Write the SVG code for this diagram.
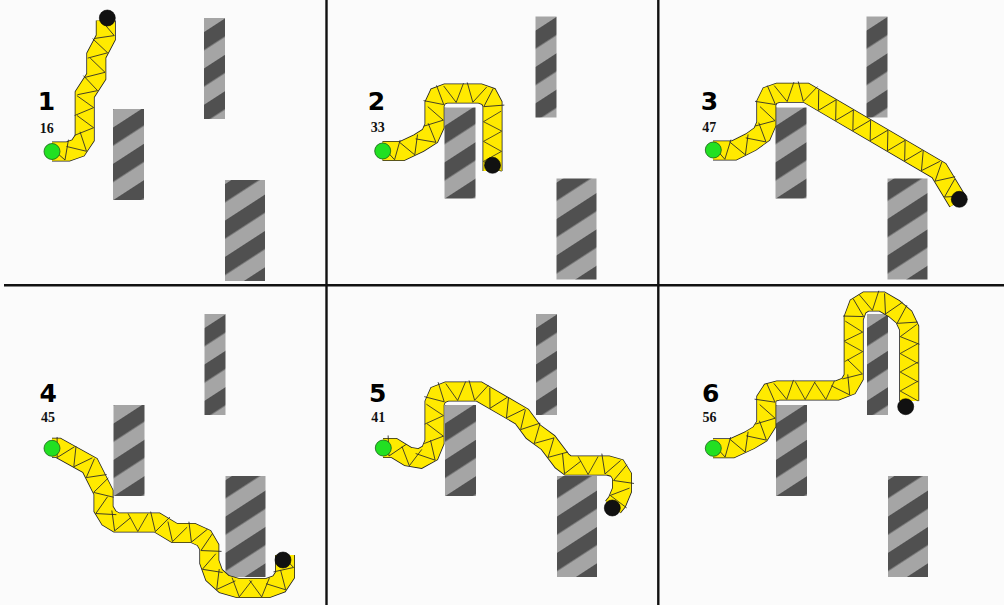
<svg xmlns="http://www.w3.org/2000/svg" width="1004" height="605" viewBox="0 0 1004 605">
  <style>
    .bg { fill: #fbfbfb; }
    .rule { stroke: #111; stroke-width: 2.4; fill: none; }
    .edge { fill: none; stroke: #222; stroke-width: 20; stroke-linejoin: miter; stroke-miterlimit: 3; }
    .flesh { fill: none; stroke: #ffea00; stroke-width: 18.4; stroke-linejoin: miter; stroke-miterlimit: 3; }
    .zig { fill: none; stroke: none; marker-start: url(#link); marker-mid: url(#link); marker-end: url(#link); }
    .tip { fill: #111; stroke: #000; stroke-width: 0.6; }
    .base { fill: #22e022; stroke: #1b5e1b; stroke-width: 0.8; }
    .num { font-family: "DejaVu Sans", "Liberation Sans", sans-serif; font-weight: bold; font-size: 25px; fill: #000; text-anchor: middle; }
    .cnt { font-family: "Liberation Serif", serif; font-weight: bold; font-size: 14px; fill: #111; text-anchor: middle; }
  </style>
  <defs>
    <!-- diagonal hazard stripes for the obstacles -->
    <pattern id="hatchA" patternUnits="userSpaceOnUse" x="16" width="30.5" height="10" patternTransform="rotate(57)">
      <rect width="30.5" height="10" fill="#a5a5a5"/>
      <rect width="15.25" height="10" fill="#505050"/>
    </pattern>
    <pattern id="hatchC" patternUnits="userSpaceOnUse" x="2.5" width="30.5" height="10" patternTransform="rotate(57)">
      <rect width="30.5" height="10" fill="#a5a5a5"/>
      <rect width="15.25" height="10" fill="#505050"/>
    </pattern>
    <!-- one link of the arm: a V spanning two triangles -->
    <marker id="link" markerUnits="userSpaceOnUse" orient="auto" overflow="visible" markerWidth="1" markerHeight="1" refX="0" refY="0">
      <path d="M-10,-9 L0,9 L10,-9" fill="none" stroke="#2a2a2a" stroke-width="0.8"/>
    </marker>
    <!-- obstacle layout shared by every panel -->
    <g id="field">
      <rect x="113" y="109" width="31" height="91" fill="url(#hatchA)"/>
      <rect x="204" y="18" width="21" height="101" fill="url(#hatchA)"/>
      <rect x="225" y="180" width="40" height="101" fill="url(#hatchC)"/>
    </g>
  </defs>

  <rect class="bg" x="0" y="0" width="1004" height="605"/>

  <g id="panel-1">
    <use href="#field"/>
    <polyline class="edge" points="52,151.5 68,151.5 78,148 84.7,138 84.7,94.5 96.3,76.5 96.3,55.5 105.8,37.5 105.8,20.5"/>
    <polyline class="flesh" points="52,151.5 68,151.5 78,148 84.7,138 84.7,94.5 96.3,76.5 96.3,55.5 105.8,37.5 105.8,20.5"/>
    <polyline class="zig" points="62,151.5 79.9,145.2 84.7,126.6 84.7,106.6 89,87.9 96.3,70 98.9,50.6 105.8,32.4"/>
    <circle class="base" cx="52" cy="151.5" r="8"/>
    <circle class="tip" cx="107.3" cy="18" r="8"/>
    <text class="num" x="46.5" y="110">1</text>
    <text class="cnt" x="46.7" y="132.7">16</text>
  </g>

  <g id="panel-2">
    <use href="#field" transform="translate(331.5,-1.5)"/>
    <polyline class="edge" points="382.5,151 402,151 419,143 430,136 434.5,126 434.5,104 438,96.5 446,93.5 480,93.5 488.5,96.5 492.5,104 492.5,171"/>
    <polyline class="flesh" points="382.5,151 402,151 419,143 430,136 434.5,126 434.5,104 438,96.5 446,93.5 480,93.5 488.5,96.5 492.5,104 492.5,171"/>
    <polyline class="zig" points="392.5,151 411.5,146.5 428.9,136.7 434.5,118.3 436.9,98.8 454.9,93.5 474.9,93.5 491.3,101.7 492.5,121.4 492.5,141.4 492.5,161.4"/>
    <circle class="base" cx="382.7" cy="151" r="8"/>
    <circle class="tip" cx="492.5" cy="165.3" r="8"/>
    <text class="num" x="376.5" y="110">2</text>
    <text class="cnt" x="377.8" y="131.7">33</text>
  </g>

  <g id="panel-3">
    <use href="#field" transform="translate(662.5,-1.5)"/>
    <polyline class="edge" points="713,150.5 734,150.5 751,142 762,134 766.3,124 766.3,103 770,95.5 778,92.7 806,92.7 939,170.5 958,202"/>
    <polyline class="flesh" points="713,150.5 734,150.5 751,142 762,134 766.3,124 766.3,103 770,95.5 778,92.7 806,92.7 939,170.5 958,202"/>
    <polyline class="zig" points="723,150.5 742.1,146.5 759.1,136.1 766.3,118.5 768.3,99 785.6,92.7 805.6,92.7 822.9,102.6 840.2,112.7 857.4,122.8 874.7,132.9 892,143 909.2,153.1 926.5,163.2 941.8,175.2 952.2,192.3"/>
    <circle class="base" cx="713.3" cy="150" r="8"/>
    <circle class="tip" cx="959.3" cy="199.3" r="8"/>
    <text class="num" x="709.5" y="110">3</text>
    <text class="cnt" x="709.2" y="132">47</text>
  </g>

  <g id="panel-4">
    <use href="#field" transform="translate(0.5,296)"/>
    <polyline class="edge" points="52,447.8 58,447.8 90,465.4 103.5,492.3 103.5,509 109,518 116.5,522.5 157,522.5 174.5,533 193,533 204,538 209.3,547 209.3,562 214,575 224,584 238,588 268,588 279,584 285,575 285,555"/>
    <polyline class="flesh" points="52,447.8 58,447.8 90,465.4 103.5,492.3 103.5,509 109,518 116.5,522.5 157,522.5 174.5,533 193,533 204,538 209.3,547 209.3,562 214,575 224,584 238,588 268,588 279,584 285,575 285,555"/>
    <polyline class="zig" points="61.5,449.7 79,459.4 93.4,472.1 102.3,490 103.9,509.6 117.9,522.5 137.9,522.5 157.8,523 175,533 194.8,533.8 209,546.5 210.8,566.2 222,582.2 240.6,588 260.6,588 279.5,583.3 285,564.9"/>
    <circle class="base" cx="52" cy="448.3" r="8"/>
    <circle class="tip" cx="283" cy="560" r="8"/>
    <text class="num" x="48.3" y="402">4</text>
    <text class="cnt" x="48" y="422">45</text>
  </g>

  <g id="panel-5">
    <use href="#field" transform="translate(332,296)"/>
    <polyline class="edge" points="383,448 394,448 408,456.5 420,458.5 430,453 434.5,442 434.5,403 438,395 447,391.5 479,391.5 522,416.5 533,431.5 548,442.5 562,461 568,465.5 608,465.5 617,468 622,476 622,490 617,502 613,507"/>
    <polyline class="flesh" points="383,448 394,448 408,456.5 420,458.5 430,453 434.5,442 434.5,403 438,395 447,391.5 479,391.5 522,416.5 533,431.5 548,442.5 562,461 568,465.5 608,465.5 617,468 622,476 622,490 617,502 613,507"/>
    <polyline class="zig" points="393,448 410.6,456.9 429.1,453.5 434.5,434.9 434.5,414.9 437.7,395.6 456.7,391.5 476.7,391.5 494.3,400.4 511.6,410.5 526.7,423 540.6,437.1 554.5,451.1 568.1,465.5 588.1,465.5 608.1,465.5 622,477.3 619.2,496.7"/>
    <circle class="base" cx="383.3" cy="448" r="8"/>
    <circle class="tip" cx="612.3" cy="508" r="8"/>
    <text class="num" x="377.8" y="402">5</text>
    <text class="cnt" x="378.3" y="422">41</text>
  </g>

  <g id="panel-6">
    <use href="#field" transform="translate(663,296)"/>
    <polyline class="edge" points="713,448.3 732,448.3 750,440 760,434 766.3,424 766.3,399 770.5,392.5 778,390.5 837,390.5 848.5,386 853.7,377 853.7,318 858,306.5 866,301.5 882,301.5 894,308.5 904,317 909.2,328 909.2,401"/>
    <polyline class="flesh" points="713,448.3 732,448.3 750,440 760,434 766.3,424 766.3,399 770.5,392.5 778,390.5 837,390.5 848.5,386 853.7,377 853.7,318 858,306.5 866,301.5 882,301.5 894,308.5 904,317 909.2,328 909.2,401"/>
    <polyline class="zig" points="723,448.3 742,443.7 759.6,434.2 766.3,416.3 767.8,396.7 785.2,390.5 805.2,390.5 825.2,390.5 844.6,387.5 853.7,371.6 853.7,351.6 853.7,331.6 855.9,312 870.7,301.5 889.5,305.9 904.7,318.5 909.2,335.5 909.2,353.5 909.2,372 909.2,391"/>
    <circle class="base" cx="713.3" cy="448.3" r="8"/>
    <circle class="tip" cx="905.7" cy="406.7" r="8"/>
    <text class="num" x="710.8" y="402">6</text>
    <text class="cnt" x="709.5" y="422">56</text>
  </g>

  <!-- panel dividers -->
  <g id="dividers">
    <line class="rule" x1="326.5" y1="0" x2="326.5" y2="605"/>
    <line class="rule" x1="658.3" y1="0" x2="658.3" y2="605"/>
    <line class="rule" x1="4" y1="285.3" x2="1004" y2="285.3"/>
  </g>
</svg>
